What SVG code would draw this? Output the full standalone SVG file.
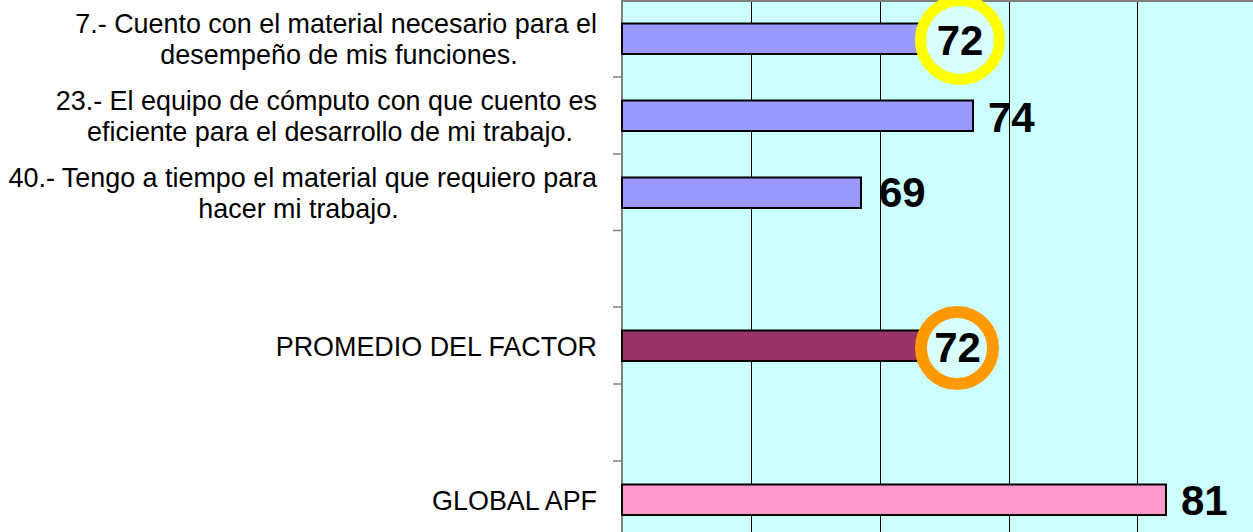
<svg xmlns="http://www.w3.org/2000/svg" width="1253" height="532" viewBox="0 0 1253 532">
<style>
.lbl{font-family:"Liberation Sans",Arial,sans-serif;font-size:26.9px;fill:#000}
.val{font-family:"Liberation Sans",Arial,sans-serif;font-size:42px;font-weight:bold;fill:#000}
.bar{stroke:#000;stroke-width:2}
.grid{stroke:#000;stroke-width:1}
.axis{stroke:#808080;stroke-width:2}
.tick{stroke:#808080;stroke-width:1.5}
</style>
<rect x="0" y="0" width="1253" height="532" fill="#fff"/>
<g id="plot">
<rect x="622" y="0" width="631" height="532" fill="#CCFFFF"/>
<line class="axis" x1="622" y1="1" x2="1253" y2="1"/>
<line class="grid" x1="751.5" y1="2" x2="751.5" y2="532"/>
<line class="grid" x1="880.5" y1="2" x2="880.5" y2="532"/>
<line class="grid" x1="1009.5" y1="2" x2="1009.5" y2="532"/>
<line class="grid" x1="1137.5" y1="2" x2="1137.5" y2="532"/>
<line class="axis" x1="622" y1="0" x2="622" y2="532"/>
<line class="tick" x1="613" y1="77" x2="622" y2="77"/>
<line class="tick" x1="613" y1="154" x2="622" y2="154"/>
<line class="tick" x1="613" y1="230.5" x2="622" y2="230.5"/>
<line class="tick" x1="613" y1="307" x2="622" y2="307"/>
<line class="tick" x1="613" y1="384" x2="622" y2="384"/>
<line class="tick" x1="613" y1="461" x2="622" y2="461"/>
</g>
<g id="item7">
<text class="lbl" x="597" y="33" text-anchor="end">7.- Cuento con el material necesario para el</text>
<text class="lbl" x="339" y="64" text-anchor="middle">desempeño de mis funciones.</text>
<rect class="bar" x="622" y="23.5" width="310" height="30.5" fill="#9999FF"/>
<circle cx="960" cy="40" r="39.5" fill="#D9FFFF" stroke="#FFFF00" stroke-width="11"/>
<text class="val" x="960" y="55" text-anchor="middle">72</text>
</g>
<g id="item23">
<text class="lbl" x="597" y="110" text-anchor="end">23.- El equipo de cómputo con que cuento es</text>
<text class="lbl" x="330" y="141" text-anchor="middle">eficiente para el desarrollo de mi trabajo.</text>
<rect class="bar" x="622" y="100.5" width="351" height="30.5" fill="#9999FF"/>
<text class="val" x="988" y="132">74</text>
</g>
<g id="item40">
<text class="lbl" x="597" y="187" text-anchor="end">40.- Tengo a tiempo el material que requiero para</text>
<text class="lbl" x="298.5" y="218" text-anchor="middle">hacer mi trabajo.</text>
<rect class="bar" x="622" y="177.5" width="239" height="30.5" fill="#9999FF"/>
<text class="val" x="879" y="207">69</text>
</g>
<g id="promedio">
<text class="lbl" x="597" y="355.5" text-anchor="end">PROMEDIO DEL FACTOR</text>
<rect class="bar" x="622" y="330.5" width="310" height="30.5" fill="#993366"/>
<circle cx="957" cy="348" r="36" fill="#D9FFFF" stroke="#FF9900" stroke-width="12"/>
<text class="val" x="957.5" y="362" text-anchor="middle">72</text>
</g>
<g id="global">
<text class="lbl" x="597" y="509.5" text-anchor="end">GLOBAL APF</text>
<rect class="bar" x="622" y="484.5" width="544" height="30.5" fill="#FF99CC"/>
<text class="val" x="1181" y="515">81</text>
</g>
</svg>
